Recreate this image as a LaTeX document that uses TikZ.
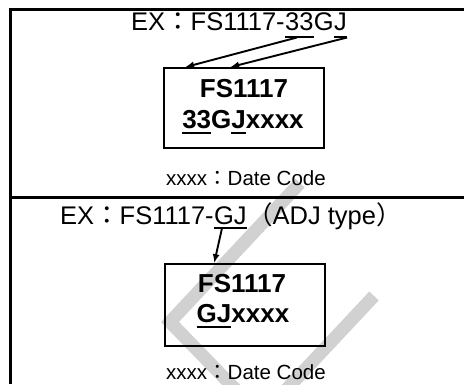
\documentclass[tikz,border=0pt]{standalone}
\usepackage{fontspec}
\setmainfont{Liberation Sans}
\newfontfamily\cjk{Noto Sans CJK JP}
\usetikzlibrary{calc,arrows.meta}
\newcommand\ulat[2]{\setbox0\hbox{#2}\rlap{\rule[-#1]{\wd0}{1.6pt}}\box0}
\tikzset{
  frame/.style={line width=2.6pt},
  partbox/.style={draw, line width=1.7pt, minimum width=160pt, minimum height=80pt, inner sep=0pt},
  ttl/.style={inner sep=0pt, font=\fontsize{25.5}{30}\selectfont},
  boxtxt/.style={inner sep=0pt, font=\fontsize{26}{30}\selectfont\bfseries, anchor=base},
  note/.style={inner sep=0pt, font=\fontsize{20.5}{24}\selectfont, anchor=base},
  arr/.style={line width=1.9pt, -{Latex[length=9pt,width=7pt]}},
  wm/.style={draw=black!18, line width=13pt, line join=miter}
}
\begin{document}
\begin{tikzpicture}[x=1pt,y=-1pt]
\useasboundingbox (0,0) rectangle (464,384);
% watermark
\draw[wm] (300,183) -- (170,322) -- (238,392);
\draw[wm] (374,296) -- (284,392);
% frame
\draw[frame] (464,9.3) -- (10.7,9.3) -- (10.7,384);
\draw[frame] (10.7,197.7) -- (464,197.7);
% ---- top part
\node[ttl, anchor=base west] (t1a) at (131,30) {EX{\cjk ：}FS1117-};
\node[ttl, anchor=base west] (t1b) at (t1a.base east) {\ulat{8pt}{33}};
\node[ttl, anchor=base west] (t1c) at (t1b.base east) {G};
\node[ttl, anchor=base west] (t1d) at (t1c.base east) {\ulat{8pt}{J}};
\node[partbox] (box1) at (244,108) {};
\node[boxtxt] (b1l1) at (244,97) {FS1117};
\node[boxtxt] (b1l2) at (243,128) {\ulat{6pt}{33}G\ulat{6pt}{J}xxxx};
\node[note] (n1) at (246,185) {xxxx{\cjk ：}Date Code};
\coordinate (s1) at ($(t1b.base west)+(12,7.5)$);
\coordinate (s2) at ($(t1d.base east)+(0,7.5)$);
\draw[arr] (s1) -- ($(box1.north west)+(22,0)$);
\draw[arr] (s2) -- ($(box1.north west)+(67,0)$);
% ---- bottom part
\node[ttl, anchor=base west] (t2a) at (60,224) {EX{\cjk ：}FS1117-};
\node[ttl, anchor=base west] (t2b) at (t2a.base east) {\ulat{4.5pt}{GJ}};
\node[ttl, anchor=base west] (t2c) at (t2b.base east) {{\cjk （}ADJ type{\cjk ）}};
\node[partbox, minimum height=82pt] (box2) at (245,305) {};
\node[boxtxt] (b2l1) at (242,292) {FS1117};
\node[boxtxt] (b2l2) at (243,322) {\ulat{6pt}{GJ}xxxx};
\node[note] (n2) at (246,379) {xxxx{\cjk ：}Date Code};
\coordinate (s3) at ($(t2b.base west)+(8,4.5)$);
\draw[arr] (s3) -- ($(box2.north west)+(50,0)$);
\end{tikzpicture}
\end{document}
